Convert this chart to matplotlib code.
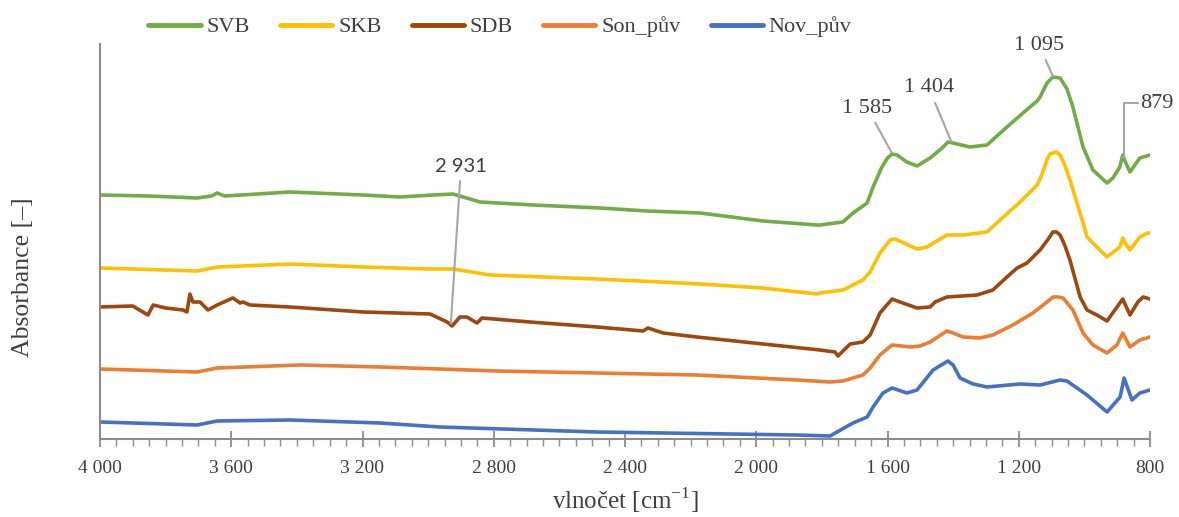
import numpy as np
import matplotlib
matplotlib.use("Agg")
import matplotlib.pyplot as plt
from matplotlib.ticker import MultipleLocator, FuncFormatter

# ---- data (wavenumber cm-1, absorbance arbitrary offset units) ----
svb_x = [4000, 3850, 3704, 3660, 3643, 3620, 3421, 3198, 3086, 2985, 2924, 2842, 2680, 2476, 2333, 2171,
         1979, 1815, 1806, 1736, 1705, 1662, 1644, 1617, 1600, 1586, 1571, 1541, 1510, 1470, 1430, 1416,
         1400, 1349, 1297, 1236, 1166, 1144, 1135, 1114, 1096, 1074, 1053, 1035, 1004, 974, 931, 913,
         892, 883, 875, 861, 831, 800]
svb_y = [2.42, 2.41, 2.39, 2.41, 2.44, 2.41, 2.45, 2.42, 2.40, 2.42, 2.43, 2.35, 2.32, 2.29, 2.26, 2.24,
         2.16, 2.12, 2.12, 2.15, 2.24, 2.34, 2.50, 2.70, 2.79, 2.83, 2.82, 2.75, 2.71, 2.79, 2.90, 2.95,
         2.94, 2.90, 2.92, 3.10, 3.30, 3.36, 3.40, 3.54, 3.60, 3.59, 3.48, 3.30, 2.90, 2.67, 2.54, 2.59,
         2.70, 2.82, 2.75, 2.65, 2.79, 2.82]

skb_x = [4000, 3704, 3643, 3421, 3198, 2994, 2924, 2811, 2485, 2293, 2171, 1979, 1815, 1806, 1736,
         1693, 1675, 1653, 1623, 1592, 1577, 1510, 1480, 1419, 1370, 1297, 1257, 1196, 1144, 1130,
         1114, 1105, 1096, 1085, 1074, 1060, 1044, 1004, 992, 962, 931, 892, 883, 872, 861, 831, 806, 800]
skb_y = [1.69, 1.66, 1.70, 1.73, 1.70, 1.68, 1.68, 1.62, 1.58, 1.55, 1.53, 1.49, 1.43, 1.44, 1.47,
         1.54, 1.57, 1.65, 1.84, 1.97, 1.98, 1.88, 1.90, 2.02, 2.02, 2.05, 2.17, 2.35, 2.52, 2.62,
         2.77, 2.83, 2.84, 2.85, 2.82, 2.72, 2.57, 2.14, 2.00, 1.90, 1.80, 1.90, 1.99, 1.92, 1.87, 2.00, 2.04, 2.04]

sdb_x = [4000, 3900, 3854, 3838, 3800, 3747, 3735, 3726, 3717, 3695, 3671, 3643, 3595, 3573, 3564,
         3543, 3421, 3198, 2994, 2942, 2927, 2903, 2882, 2851, 2836, 2690, 2485, 2345, 2330, 2284,
         2181, 1979, 1806, 1760, 1751, 1714, 1675, 1653, 1623, 1586, 1562, 1510, 1470, 1455, 1419,
         1327, 1279, 1236, 1205, 1175, 1135, 1110, 1096, 1085, 1074, 1060, 1044, 1013, 992, 962, 931,
         907, 883, 861, 837, 821, 800]
sdb_y = [1.30, 1.31, 1.22, 1.32, 1.29, 1.27, 1.25, 1.43, 1.35, 1.35, 1.27, 1.32, 1.39, 1.34, 1.35,
         1.32, 1.30, 1.25, 1.23, 1.15, 1.11, 1.20, 1.20, 1.14, 1.19, 1.15, 1.10, 1.06, 1.09, 1.04,
         1.00, 0.93, 0.87, 0.85, 0.81, 0.93, 0.95, 1.02, 1.24, 1.38, 1.35, 1.29, 1.30, 1.35, 1.40,
         1.42, 1.47, 1.60, 1.69, 1.74, 1.87, 1.98, 2.05, 2.05, 2.02, 1.92, 1.77, 1.40, 1.27, 1.22, 1.16,
         1.27, 1.38, 1.22, 1.35, 1.40, 1.38]

son_x = [4000, 3704, 3643, 3390, 3147, 2964, 2790, 2485, 2181, 1876, 1775, 1736, 1675, 1653, 1623,
         1586, 1531, 1501, 1470, 1419, 1400, 1370, 1318, 1279, 1218, 1157, 1110, 1096, 1080, 1065,
         1050, 1035, 1004, 974, 931, 901, 883, 861, 831, 800]
son_y = [0.68, 0.65, 0.69, 0.72, 0.70, 0.68, 0.66, 0.64, 0.62, 0.57, 0.55, 0.56, 0.62, 0.69, 0.82,
         0.92, 0.90, 0.91, 0.95, 1.06, 1.04, 1.00, 0.99, 1.02, 1.12, 1.24, 1.36, 1.40, 1.40, 1.39,
         1.33, 1.27, 1.04, 0.92, 0.84, 0.92, 1.04, 0.90, 0.97, 1.00]

nov_x = [4000, 3704, 3643, 3421, 3147, 2964, 2485, 1876, 1775, 1754, 1705, 1662, 1644, 1614, 1586,
         1541, 1510, 1461, 1416, 1400, 1379, 1339, 1297, 1196, 1135, 1074, 1053, 992, 931, 891, 879,
         855, 831, 800]
nov_y = [0.15, 0.12, 0.16, 0.17, 0.14, 0.10, 0.05, 0.02, 0.01, 0.05, 0.14, 0.20, 0.30, 0.44, 0.49,
         0.44, 0.47, 0.67, 0.76, 0.72, 0.59, 0.53, 0.50, 0.53, 0.52, 0.57, 0.56, 0.42, 0.25, 0.40, 0.59,
         0.37, 0.44, 0.47]

series_names = ["SVB", "SKB", "SDB", "Son_pův", "Nov_pův"]
series_colors = ["#70AD47", "#FFC000", "#9E480E", "#ED7D31", "#4472C4"]

# annotations: label, peak wavenumber, series index
peak_labels = ["1 585", "1 404", "1 095", "879", "2 931"]
peak_wn = [1585, 1404, 1095, 879, 2931]
peak_series = [0, 0, 0, 0, 2]

# ---- plot ----
SERIF = ["Liberation Serif", "DejaVu Serif"]
fig = plt.figure(figsize=(11.79, 5.17), dpi=100)
ax = fig.add_axes([100 / 1179, 78 / 517, 1050 / 1179, (439 - 44) / 517])

xs = [svb_x, skb_x, sdb_x, son_x, nov_x]
ys = [svb_y, skb_y, sdb_y, son_y, nov_y]
for x, y, n, c in zip(xs, ys, series_names, series_colors):
    ax.plot(x, y, color=c, lw=2.6, label=n, solid_capstyle="round", solid_joinstyle="round")

ax.set_xlim(4000, 800)
ax.set_ylim(-0.02, 3.93)

axis_gray = "#8c8c8c"
for s in ["top", "right"]:
    ax.spines[s].set_visible(False)
ax.spines["left"].set_color(axis_gray)
ax.spines["bottom"].set_color(axis_gray)
ax.spines["left"].set_linewidth(1.5)
ax.spines["bottom"].set_linewidth(1.5)
ax.set_yticks([])

ax.xaxis.set_major_locator(MultipleLocator(400))
ax.xaxis.set_minor_locator(MultipleLocator(50))
ax.xaxis.set_major_formatter(FuncFormatter(lambda v, p: f"{int(round(v)):,}".replace(",", " ")))
ax.tick_params(axis="x", which="major", direction="inout", length=11, width=1.3,
               color=axis_gray, pad=9.5, labelsize=14, labelcolor="#404040")
ax.tick_params(axis="x", which="minor", direction="out", length=5, width=1.0, color=axis_gray)
for lab in ax.get_xticklabels():
    lab.set_family(SERIF)

ax.set_xlabel("vlnočet [cm$^{\\mathregular{-1}}$]", fontsize=18, family=SERIF,
              color="#404040", labelpad=6)
ax.set_ylabel("Absorbance [–]", fontsize=18.5, family=SERIF, color="#404040")
ax.yaxis.set_label_coords(-0.063, 0.41)

# annotations
text_pos = {  # text positions (wavenumber, absorbance units)
    "1 585": (1662, 3.29),
    "1 404": (1474, 3.49),
    "1 095": (1138, 3.92),
    "879": (829, 3.34),
    "2 931": (2900, 2.70),
}
lead_gray = "#a6a6a6"
for lab, wn, si in zip(peak_labels, peak_wn, peak_series):
    xsr = np.array(xs[si])[::-1]
    ysr = np.array(ys[si])[::-1]
    yv = float(np.interp(wn, xsr, ysr))
    tx, ty = text_pos[lab]
    if lab == "879":
        ax.annotate(lab, xy=(wn, yv), xytext=(tx, ty), ha="left", va="center",
                    fontsize=16, family=SERIF, color="#404040", annotation_clip=False,
                    arrowprops=dict(arrowstyle="-", color=lead_gray, lw=1.5, shrinkA=0, shrinkB=1,
                                    relpos=(0, 0.5),
                                    connectionstyle="angle,angleA=0,angleB=90,rad=0"))
    elif lab == "2 931":
        ax.annotate(lab, xy=(wn, yv), xytext=(tx, ty), ha="center", va="center",
                    fontsize=14.5, family=["Lato", "DejaVu Sans"], color="#404040",
                    annotation_clip=False,
                    arrowprops=dict(arrowstyle="-", color=lead_gray, lw=1.5, shrinkA=2, shrinkB=1))
    else:
        ax.annotate(lab, xy=(wn, yv), xytext=(tx, ty), ha="center", va="center",
                    fontsize=16, family=SERIF, color="#404040", annotation_clip=False,
                    arrowprops=dict(arrowstyle="-", color=lead_gray, lw=1.5, shrinkA=2, shrinkB=1))

leg = fig.legend(loc="center", bbox_to_anchor=(500 / 1179, 1 - 27 / 517), ncol=5, frameon=False,
                 prop={"family": SERIF, "size": 16}, handlelength=2.35, handletextpad=0.27,
                 columnspacing=1.35, borderaxespad=0)
for t in leg.get_texts():
    t.set_color("#404040")
for h in leg.get_lines():
    h.set_linewidth(3.5)

fig.savefig("out.png", dpi=100)
